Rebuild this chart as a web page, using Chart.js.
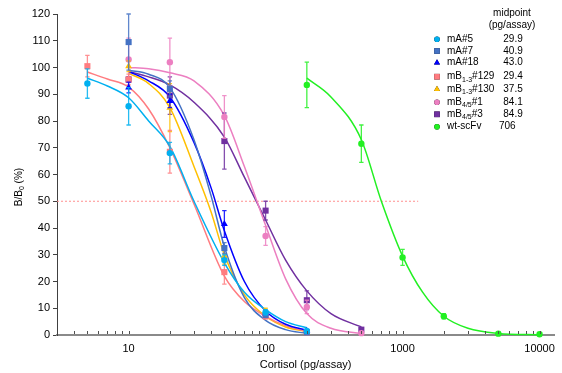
<!DOCTYPE html>
<html><head><meta charset="utf-8">
<script src="https://cdn.jsdelivr.net/npm/chart.js@4"></script>
<style>html,body{margin:0;padding:0;background:#fff}canvas{display:block}</style>
</head><body>
<canvas id="c" width="562" height="373"></canvas>
<script>
// ---------------- DATA ----------------
// measured points (concentration pg/assay, B/B0 %, error)
const mA5_x = [5, 10, 20, 50, 100, 200];
const mA5_y = [94, 85.5, 68, 28, 8.5, 1.5];
const mA5_err = [5.5, 7, 4, 2, 1, 0.5];

const mA7_x = [10, 20, 50, 100, 200];
const mA7_y = [109.5, 92, 32.5, 7.5, 1];
const mA7_err = [10.5, 3, 2, 1, 0.5];

const mA18_x = [10, 20, 50, 100, 200];
const mA18_y = [92.5, 87.5, 41.5, 8, 1.5];
const mA18_err = [2, 2.5, 5, 1, 0.5];

const mB129_x = [5, 10, 20, 50, 100, 200];
const mB129_y = [100.5, 95.5, 68.5, 23.5, 7, 1];
const mB129_err = [4, 2, 8, 4.5, 1, 0.5];

const mB130_x = [10, 20, 50, 100, 200];
const mB130_y = [100.5, 85, 29.5, 8.5, 1];
const mB130_err = [2, 9, 3, 1.5, 0.5];

const mB451_x = [10, 20, 50, 100, 200, 500];
const mB451_y = [103, 102, 81.5, 37, 10.5, 0.7];
const mB451_err = [8, 9, 8, 3.5, 2.5, 0.3];

const mB453_x = [10, 20, 50, 100, 200, 500];
const mB453_y = [95.5, 89.5, 72.5, 46.5, 13, 2];
const mB453_err = [1, 7, 10.5, 3.5, 3.5, 0.5];

const wt_x = [200, 500, 1000, 2000, 5000, 10000];
const wt_y = [93.5, 71.5, 29, 7, 0.5, 0.3];
const wt_err = [8.5, 7, 3, 1, 0.3, 0.2];

// fitted curves
const mA5_cx = [5, 7, 10, 14, 20, 30, 50, 70, 100, 140, 200];
const mA5_cy = [96, 93.1, 88.7, 80, 70.5, 50, 27, 16, 9.5, 5, 2.7];

const mB129_cx = [5, 7, 10, 14, 20, 30, 50, 70, 100, 140, 200];
const mB129_cy = [98.3, 95.7, 92.7, 84.5, 70, 49, 22, 12.5, 7, 3.5, 1.3];

const mB130_cx = [10, 14, 20, 30, 40, 50, 70, 100, 140, 200];
const mB130_cy = [97.8, 94, 85, 63, 46, 30, 15, 7, 3, 1.3];

const mA7_cx = [10, 14, 20, 30, 40, 50, 70, 100, 140, 200];
const mA7_cy = [99, 97.5, 92.5, 73, 52, 33, 14, 5.5, 2, 0.6];

const mA18_cx = [10, 14, 20, 30, 40, 50, 70, 100, 140, 200];
const mA18_cy = [98.5, 95, 89, 72, 55, 39, 20, 9, 4, 1.8];

const mB451_cx = [10, 14, 20, 30, 50, 70, 100, 140, 200, 300, 500];
const mB451_cy = [100, 99.5, 98, 95, 82, 63, 41, 21, 8, 2.5, 0.5];

const mB453_cx = [10, 14, 20, 30, 50, 70, 100, 140, 200, 300, 500];
const mB453_cy = [98.5, 96.5, 93.5, 87, 74, 59, 43, 28, 16.5, 8, 3];

const wt_cx = [200, 300, 500, 700, 1000, 1400, 2000, 3000, 5000, 10000];
const wt_cy = [96, 89, 73, 50, 29.5, 16, 7, 2.5, 0.6, 0.1];

// reference line at B/B0 = 50 %
const ref_x = [3, 1300];
const ref_y = [50, 50];

// legend texts: [main, subscript, rest]
const seriesLabels = [['mA#5','',''],['mA#7','',''],['mA#18','',''],['mB','1-3','#129'],['mB','1-3','#130'],['mB','4/5','#1'],['mB','4/5','#3'],['wt-scFv','','']];
const midpoints = ['29.9','40.9','43.0','29.4','37.5','84.1','84.9','706'];

// axis ticks
const xMajorLabels = [10, 100, 1000, 10000];
const xTickValues = [];
for (const d of [1, 10, 100, 1000]) for (let m = 1; m <= 9; m++) { const v = m * d; if (v >= 4) xTickValues.push(v); }
xTickValues.push(10000);

// ---------------- STYLE ----------------
const FONT = '"Liberation Sans", Arial, Helvetica, sans-serif';
const series = [
  {px: mA5_x, py: mA5_y, err: mA5_err, cx: mA5_cx, cy: mA5_cy, color: '#00B0F0', style: 'circle', r: 3.2, lr: 2.8},
  {px: mA7_x, py: mA7_y, err: mA7_err, cx: mA7_cx, cy: mA7_cy, color: '#4472C4', style: 'rect', r: 4.3, lr: 4},
  {px: mA18_x, py: mA18_y, err: mA18_err, cx: mA18_cx, cy: mA18_cy, color: '#0000FF', style: 'triangle', r: 4, lr: 3.5},
  {px: mB129_x, py: mB129_y, err: mB129_err, cx: mB129_cx, cy: mB129_cy, color: '#FF7C80', style: 'rect', r: 4.3, lr: 4},
  {px: mB130_x, py: mB130_y, err: mB130_err, cx: mB130_cx, cy: mB130_cy, color: '#FFC000', style: 'triangle', r: 4, lr: 3.5},
  {px: mB451_x, py: mB451_y, err: mB451_err, cx: mB451_cx, cy: mB451_cy, color: '#EC7FC1', style: 'circle', r: 3.2, lr: 2.8},
  {px: mB453_x, py: mB453_y, err: mB453_err, cx: mB453_cx, cy: mB453_cy, color: '#7030A0', style: 'rect', r: 4.3, lr: 4},
  {px: wt_x, py: wt_y, err: wt_err, cx: wt_cx, cy: wt_cy, color: '#22F022', style: 'circle', r: 3.2, lr: 2.8}
];

const zip = (xs, ys) => xs.map((x, i) => ({x: x, y: ys[i]}));
const datasets = [];
datasets.push({data: zip(ref_x, ref_y), borderColor: '#FF9090', borderWidth: 1, borderDash: [2, 2], pointRadius: 0, order: 5});
series.forEach(s => {
  datasets.push({data: zip(s.cx, s.cy), borderColor: s.color, borderWidth: 1.5, pointRadius: 0,
    cubicInterpolationMode: 'monotone', order: 3, clip: false});
});
series.forEach(s => {
  datasets.push({data: zip(s.px, s.py), showLine: false, pointStyle: s.style, pointRadius: s.r,
    pointBackgroundColor: s.color, pointBorderColor: s.color, pointBorderWidth: 0, order: 1, clip: false,
    errors: s.err, errColor: s.color});
});

const custom = {
  id: 'custom',
  beforeDatasetDraw(chart, args) {
    const ds = chart.data.datasets[args.index];
    if (!ds.errors) return;
    const ctx = chart.ctx, xs = chart.scales.x, ys = chart.scales.y;
    ctx.save();
    ctx.strokeStyle = ds.errColor; ctx.lineWidth = 1.3; ctx.globalAlpha = 0.85;
    ds.data.forEach((p, i) => {
      const e = ds.errors[i];
      const x = xs.getPixelForValue(p.x);
      const y1 = ys.getPixelForValue(p.y + e), y2 = ys.getPixelForValue(p.y - e);
      ctx.beginPath();
      ctx.moveTo(x, y1); ctx.lineTo(x, y2);
      ctx.moveTo(x - 2.2, y1); ctx.lineTo(x + 2.2, y1);
      ctx.moveTo(x - 2.2, y2); ctx.lineTo(x + 2.2, y2);
      ctx.stroke();
    });
    ctx.restore();
  },
  afterDraw(chart) {
    const ctx = chart.ctx, xs = chart.scales.x, ca = chart.chartArea;
    ctx.save();
    // inward minor/major ticks on x axis
    ctx.strokeStyle = '#505050'; ctx.lineWidth = 1;
    xTickValues.forEach(v => {
      const x = Math.round(xs.getPixelForValue(v)) + 0.5;
      ctx.beginPath(); ctx.moveTo(x, ca.bottom - 1); ctx.lineTo(x, ca.bottom - 4); ctx.stroke();
    });
    // y-axis title with subscript
    ctx.fillStyle = '#000';
    ctx.translate(19, 187); ctx.rotate(-Math.PI / 2);
    const f1 = '10px ' + FONT, f2 = '7px ' + FONT;
    ctx.font = f1; const w1 = ctx.measureText('B/B').width, w3 = ctx.measureText(' (%)').width;
    ctx.font = f2; const w2 = ctx.measureText('0').width;
    let x0 = -(w1 + w2 + w3) / 2;
    ctx.textBaseline = 'middle'; ctx.textAlign = 'left';
    ctx.font = f1; ctx.fillText('B/B', x0, 0);
    ctx.font = f2; ctx.fillText('0', x0 + w1, 3);
    ctx.font = f1; ctx.fillText(' (%)', x0 + w1 + w2, 0);
    ctx.setTransform(1, 0, 0, 1, 0, 0);
    // legend
    ctx.font = '10px ' + FONT; ctx.textAlign = 'center'; ctx.textBaseline = 'middle';
    ctx.fillText('midpoint', 512, 13.5);
    ctx.fillText('(pg/assay)', 512, 25.5);
    const rowY = [39.3, 51, 62.7, 76.7, 89.3, 102.3, 114.3, 126.7];
    ctx.textAlign = 'left';
    series.forEach((s, i) => {
      const y = rowY[i];
      Chart.helpers.drawPoint(ctx, {pointStyle: s.style, radius: s.lr, borderWidth: 0}, 437, y);
      ctx.fillStyle = s.color; ctx.fill();
      ctx.fillStyle = '#000';
      const [a, b, c] = seriesLabels[i];
      let x = 447;
      ctx.font = '10px ' + FONT; ctx.fillText(a, x, y); x += ctx.measureText(a).width;
      if (b) { ctx.font = '7px ' + FONT; ctx.fillText(b, x, y + 3); x += ctx.measureText(b).width;
        ctx.font = '10px ' + FONT; ctx.fillText(c, x, y); }
      ctx.font = '10px ' + FONT;
      ctx.fillText(midpoints[i], midpoints[i].indexOf('.') < 0 ? 499 : 503.3, y);
    });
    ctx.restore();
  }
};

new Chart(document.getElementById('c'), {
  type: 'line',
  data: {datasets: datasets},
  plugins: [custom],
  options: {
    responsive: false, animation: false, devicePixelRatio: 1,
    layout: {padding: {left: 0, right: 5, top: 14, bottom: 0}},
    plugins: {legend: {display: false}, tooltip: {enabled: false}},
    scales: {
      x: {
        type: 'logarithmic', min: 3, max: 12800,
        afterBuildTicks: s => { s.ticks = xTickValues.map(v => ({value: v})); },
        afterFit: s => { s.height = 38; },
        ticks: {autoSkip: false, maxRotation: 0, padding: 7, color: '#000', font: {size: 11, family: FONT},
          callback: v => xMajorLabels.includes(v) ? String(v) : ''},
        grid: {display: true, drawOnChartArea: false, drawTicks: false},
        border: {color: '#8a8a8a', width: 2},
        title: {display: true, text: 'Cortisol (pg/assay)', color: '#000', font: {size: 11, family: FONT}, padding: {top: 0, bottom: 1}}
      },
      y: {
        min: 0, max: 120,
        afterFit: s => { s.width = 57; },
        ticks: {stepSize: 10, padding: 3, color: '#000', font: {size: 11, family: FONT}},
        grid: {drawOnChartArea: false, tickLength: 4, color: '#404040'},
        border: {color: '#404040', width: 1}
      }
    }
  }
});
</script>
</body></html>
